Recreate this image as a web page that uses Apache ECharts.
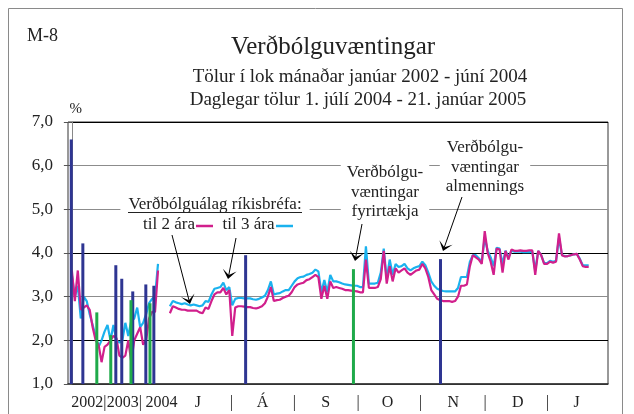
<!DOCTYPE html>
<html><head><meta charset="utf-8">
<script src="https://cdn.jsdelivr.net/npm/echarts@6/dist/echarts.min.js"></script>
<style>html,body{margin:0;padding:0;background:#fff}#c{width:634px;height:414px}</style>
</head><body><div id="c"></div>
<script>
// Monthly values Jan 2002 - Jun 2004 (slots 0..29)
const monthly2y = [3.6,2.9,3.6,2.7,2.75,2.8,2.7,2.3,2.0,1.9,1.5,1.85,1.9,2.0,2.1,2.05,1.65,1.6,1.65,2.0,1.5,2.0,2.15,2.3,1.9,2.0,2.5,2.65,2.65,3.6];
const monthly3y = [3.5,3.0,3.25,2.5,3.0,2.9,2.6,2.35,2.1,1.85,2.0,2.2,2.35,2.0,2.35,2.0,1.95,2.0,2.4,2.1,2.45,2.5,2.75,2.3,2.4,2.6,2.85,2.95,3.0,3.75];
// Daily values 1 Jul 2004 - 21 Jan 2005 (trading days, slots 33..174)
const daily2y = [2.62,2.78,2.75,2.72,2.7,2.7,2.68,2.68,2.68,2.68,2.64,2.62,2.75,2.72,2.9,3.05,3.1,3.1,3.2,3.05,3.15,2.1,2.75,2.78,2.78,2.77,2.76,2.76,2.74,2.73,2.75,2.78,2.85,3.0,3.22,2.9,2.92,2.93,2.97,3.0,3.02,3.1,3.22,3.28,3.3,3.32,3.38,3.4,3.45,3.5,3.45,2.95,3.25,2.95,3.35,3.2,3.22,3.2,3.18,3.15,3.15,3.14,3.13,3.12,3.1,3.1,3.85,3.2,3.2,3.2,3.22,3.4,4.05,3.3,3.7,3.35,3.65,3.55,3.6,3.65,3.55,3.5,3.55,3.6,3.62,3.75,3.65,3.45,3.15,3.05,2.95,2.92,2.9,2.9,2.9,2.88,2.9,3.0,3.25,3.25,3.28,3.7,3.95,3.9,3.85,3.75,4.5,4.0,3.8,3.5,4.1,4.08,3.55,4.05,3.85,4.08,4.05,4.05,4.06,4.05,4.05,4.06,4.06,3.5,4.05,3.95,3.75,3.75,3.8,3.78,3.8,4.45,3.95,3.92,3.93,3.95,3.97,3.98,3.85,3.7,3.68,3.68];
const daily3y = [2.78,2.9,2.87,2.85,2.83,2.85,2.82,2.8,2.82,2.8,2.78,2.8,2.9,2.88,3.05,3.18,3.2,3.22,3.32,3.15,3.22,2.8,2.95,2.97,2.97,2.96,2.96,2.96,2.94,2.93,2.95,2.98,3.02,3.15,3.35,3.05,3.07,3.08,3.12,3.15,3.15,3.25,3.35,3.42,3.45,3.46,3.5,3.52,3.55,3.62,3.58,3.1,3.38,3.1,3.5,3.35,3.35,3.33,3.3,3.28,3.27,3.26,3.25,3.25,3.22,3.22,4.15,3.3,3.3,3.3,3.32,3.55,4.1,3.4,3.85,3.5,3.75,3.68,3.7,3.75,3.65,3.6,3.65,3.68,3.7,3.8,3.72,3.55,3.35,3.25,3.18,3.15,3.13,3.12,3.12,3.12,3.12,3.2,3.45,3.45,3.45,3.8,3.95,3.95,3.88,3.8,4.35,4.05,3.9,3.7,4.12,4.1,3.75,4.05,3.9,4.05,4.03,4.03,4.03,4.02,4.02,4.02,4.03,3.6,4.05,3.95,3.77,3.77,3.82,3.8,3.82,4.35,3.95,3.93,3.93,3.95,3.97,3.98,3.87,3.72,3.72,3.72];
const monthlyStart = 0, dailyStart = 33;
// Survey bars: [slot position, value]
const publicBars = [[-0.2,6.6],[3.7,4.22],[14.8,3.72],[16.8,3.41],[20.5,3.12],[24.9,3.28],[27.6,3.25],[58.5,3.95],[124.1,3.86]];
const firmBars = [[8.4,2.64],[13.1,2.12],[19.9,2.92],[26.3,2.85],[94.8,3.63]];
// x tick labels
const xLabelPos = [5.2,11.1,17.1,23.1,30.2,42.4,53.8,64.2,74.9,85.5,96.4,106.3,117.4,128.4,139.1,150.1,160.2,169.9];
const xLabelText = ['2002','|','2003','|','2004','J','|','Á','|','S','|','O','|','N','|','D','|','J'];
const yMin = 1, yMax = 7, yStep = 1;

const SERIF = 'Liberation Serif, Times New Roman, Tinos, DejaVu Serif, serif';
const MAG = '#d11f8c', CYA = '#1ab2ee', BLUE = '#2e3592', GREEN = '#1faa4a';

function pts(arr, start){ return arr.map((v,i)=>[start+i, v]); }

function arrow(x1,y1,x2,y2){
  const dx=x2-x1, dy=y2-y1, len=Math.hypot(dx,dy), ux=dx/len, uy=dy/len, px=-uy, py=ux;
  const L=9, W=7, N=4;
  return [
    {type:'line', z:100, shape:{x1:x1,y1:y1,x2:x2-ux*N,y2:y2-uy*N}, style:{stroke:'#000', lineWidth:1}},
    {type:'polygon', z:100, shape:{points:[[x2,y2],[x2-ux*L+px*W,y2-uy*L+py*W],[x2-ux*N,y2-uy*N],[x2-ux*L-px*W,y2-uy*L-py*W]]}, style:{fill:'#000'}}
  ];
}
function txt(text,x,y,extra){
  return {type:'text', z:100, style:Object.assign({text:text, x:x, y:y, fontFamily:SERIF, fontSize:17, fill:'#222', align:'center', verticalAlign:'middle', lineHeight:19.5}, extra||{})};
}

const chart = echarts.init(document.getElementById('c'), null, {renderer:'canvas'});
const graphics = [
  {type:'rect', z:-10, shape:{x:8.5,y:8.5,width:614,height:430}, style:{fill:null, stroke:'#8a8a8a', lineWidth:1}},
  txt('Verðbólguálag ríkisbréfa:', 215, 205, {backgroundColor:'#fff', padding:[3,8]}),
  {type:'line', z:101, shape:{x1:128,y1:212.5,x2:302,y2:212.5}, style:{stroke:'#222', lineWidth:1}},
  txt('til 2 ára', 169, 225, {backgroundColor:'#fff', padding:[2,2]}),
  {type:'line', z:101, shape:{x1:196,y1:226,x2:213,y2:226}, style:{stroke:MAG, lineWidth:2.5}},
  txt('til 3 ára', 248.5, 225, {backgroundColor:'#fff', padding:[2,2]}),
  {type:'line', z:101, shape:{x1:276,y1:226,x2:293,y2:226}, style:{stroke:CYA, lineWidth:2.5}},
  txt('Verðbólgu-\nvæntingar\nfyrirtækja', 385, 192.5, {backgroundColor:'#fff', padding:[2,6]}),
  txt('Verðbólgu-\nvæntingar\nalmennings', 485, 167.5, {backgroundColor:'#fff', padding:[2,6]})
].concat(arrow(172,235,190,304), arrow(236,238,228,279), arrow(362,224,355,261), arrow(462,197,443,251));

chart.setOption({
  animation:false,
  backgroundColor:'#fff',
  title:[
    {text:'M-8', left:22, top:22, textStyle:{fontFamily:SERIF, fontSize:18, fontWeight:'normal', color:'#222'}},
    {text:'Verðbólguvæntingar', left:328, top:30, textAlign:'center', textStyle:{fontFamily:SERIF, fontSize:25, fontWeight:'normal', color:'#222'}},
    {text:'Tölur í lok mánaðar janúar 2002 - júní 2004', left:355, top:63, textAlign:'center', textStyle:{fontFamily:SERIF, fontSize:19, fontWeight:'normal', color:'#222'}},
    {text:'Daglegar tölur 1. júlí 2004 - 21. janúar 2005', left:353, top:86, textAlign:'center', textStyle:{fontFamily:SERIF, fontSize:19, fontWeight:'normal', color:'#222'}}
  ],
  grid:{left:68, right:26, top:122, bottom:30, show:true, borderColor:'#333', borderWidth:1, backgroundColor:'transparent'},
  xAxis:{type:'value', min:-1.3, max:180.5,
    axisLine:{show:true, onZero:false, lineStyle:{color:'#333', width:1.5}},
    axisTick:{show:false}, splitLine:{show:false},
    axisLabel:{customValues:xLabelPos, margin:11, fontFamily:SERIF, fontSize:16, color:'#222',
      formatter:function(v){ const i = xLabelPos.findIndex(p=>Math.abs(p-v)<1e-6); return i>=0 ? xLabelText[i] : ''; }}
  },
  yAxis:{type:'value', min:yMin, max:yMax, interval:yStep, name:'%', nameGap:5,
    nameTextStyle:{fontFamily:SERIF, fontSize:15, color:'#222', align:'center', padding:[0,0,0,8]},
    axisLine:{show:true, lineStyle:{color:'#888', width:1}},
    axisTick:{show:true, length:8, lineStyle:{color:'#555'}},
    axisLabel:{margin:15, fontFamily:SERIF, fontSize:17, color:'#222', formatter:v=>v.toFixed(1).replace('.',',')},
    splitLine:{show:true, lineStyle:{width:1, color:['#333','#000','#8c8c8c','#000','#8c8c8c','#8c8c8c','#000']}}
  },
  graphic:graphics,
  series:[
    {type:'line', name:'3y m', data:pts(monthly3y, monthlyStart), showSymbol:false, lineStyle:{color:CYA, width:2.2}, z:3},
    {type:'line', name:'3y d', data:pts(daily3y, dailyStart), showSymbol:false, lineStyle:{color:CYA, width:2.2}, z:3},
    {type:'line', name:'2y m', data:pts(monthly2y, monthlyStart), showSymbol:false, lineStyle:{color:MAG, width:2.2}, z:4},
    {type:'line', name:'2y d', data:pts(daily2y, dailyStart), showSymbol:false, lineStyle:{color:MAG, width:2.2}, z:4},
    {type:'bar', name:'almennings', data:publicBars, barWidth:3, itemStyle:{color:BLUE}, z:5},
    {type:'bar', name:'fyrirtækja', data:firmBars, barWidth:3, barGap:'-100%', itemStyle:{color:GREEN}, z:5}
  ]
});
</script></body></html>
